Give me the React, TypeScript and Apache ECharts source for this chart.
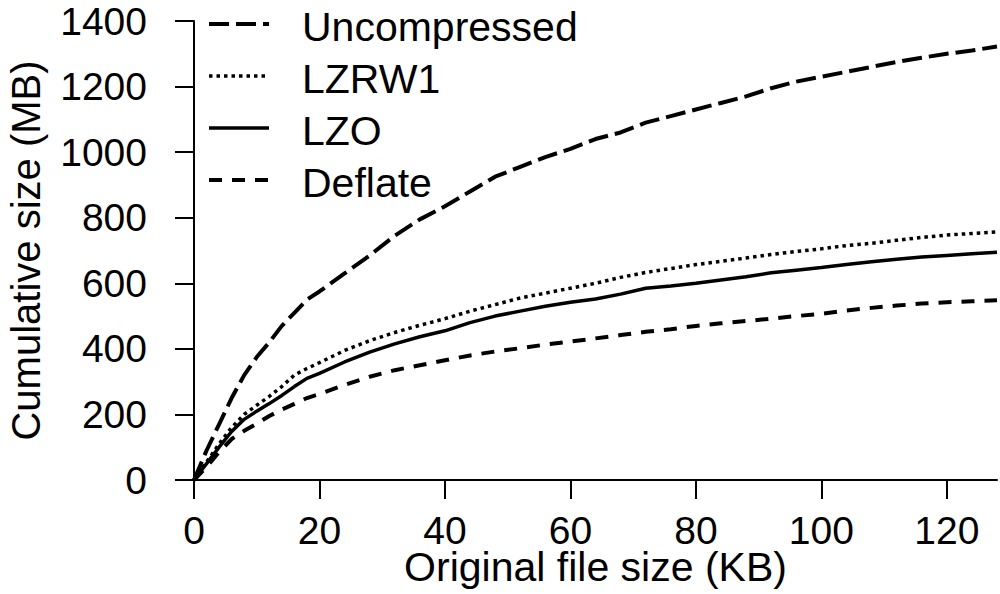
import React, { useEffect, useRef } from "react";
import * as echarts from "echarts";

const xs = [0, 2, 4, 6, 8, 10, 12, 14, 16, 18, 20, 24, 28, 32, 36, 40, 44, 48, 52, 56, 60, 64, 68, 72, 76, 80, 84, 88, 92, 96, 100, 104, 108, 112, 116, 120, 124, 128];

const uncompressed = [0, 90, 170, 250, 320, 375, 420, 470, 510, 550, 575, 630, 685, 745, 795, 835, 880, 925, 955, 985, 1010, 1040, 1060, 1090, 1110, 1130, 1150, 1170, 1195, 1215, 1230, 1245, 1260, 1275, 1288, 1300, 1310, 1322];
const lzrw1 = [0, 55, 110, 160, 200, 228, 255, 285, 320, 340, 358, 395, 425, 450, 472, 492, 515, 535, 555, 570, 585, 600, 618, 633, 645, 657, 667, 677, 688, 697, 705, 715, 722, 731, 740, 747, 752, 757];
const lzo = [0, 50, 100, 148, 185, 210, 233, 258, 285, 310, 325, 360, 390, 415, 437, 455, 480, 500, 515, 530, 542, 552, 567, 585, 592, 600, 610, 620, 632, 640, 648, 657, 666, 673, 680, 685, 690, 695];
const deflate = [0, 40, 85, 125, 150, 172, 195, 215, 232, 250, 262, 290, 315, 335, 350, 365, 380, 392, 402, 413, 422, 432, 442, 452, 460, 470, 478, 485, 492, 500, 507, 517, 525, 532, 538, 542, 545, 548];

const seriesNames = ["Uncompressed", "LZRW1", "LZO", "Deflate"];
const xTickStep = 20;
const yTickStep = 200;

const pair = (vals: number[]) => xs.map((x, i) => [x, vals[i]]);

export default function App() {
  const ref = useRef<HTMLDivElement>(null);
  useEffect(() => {
    if (!ref.current) return;
    const chart = echarts.init(ref.current, null, { renderer: "svg" });
    const font = "'Liberation Sans', Arial, Helvetica, sans-serif";
    const dashes: any[] = [[20, 7], [3.5, 4], "solid", [13, 10]];
    const widths = [4, 3.5, 3.5, 4];
    const axisCommon = {
      axisLine: { show: true, onZero: false, lineStyle: { color: "#000", width: 2 } },
      axisTick: { show: true, inside: false, length: 19, lineStyle: { color: "#000", width: 2 } },
      splitLine: { show: false },
    };
    const lineBase = { type: "line", symbol: "none", showSymbol: false, smooth: false, silent: true };
    const legendGraphics: any[] = [];
    seriesNames.forEach((name, i) => {
      const cy = 24 + i * 52;
      legendGraphics.push({
        type: "line",
        shape: { x1: 209, y1: cy, x2: 269, y2: cy },
        style: { stroke: "#000", lineWidth: widths[i], lineDash: dashes[i] === "solid" ? null : dashes[i] },
        silent: true,
      });
      legendGraphics.push({
        type: "text",
        x: 302,
        y: cy + 3,
        style: { text: name, fontFamily: font, fontSize: 41, fill: "#000", verticalAlign: "middle", align: "left" },
        silent: true,
      });
    });
    chart.setOption({
      animation: false,
      backgroundColor: "#fff",
      grid: { left: 194, right: 3, top: 21, bottom: 114, containLabel: false, outerBoundsMode: "none" },
      legend: { show: false },
      graphic: legendGraphics,
      xAxis: {
        type: "value",
        min: 0,
        max: 128,
        interval: xTickStep,
        name: "Original file size (KB)",
        nameLocation: "middle",
        nameGap: 70,
        nameMoveOverlap: false,
        nameTextStyle: { fontFamily: font, fontSize: 41, color: "#000", lineHeight: 34 },
        axisLabel: { fontFamily: font, fontSize: 39, color: "#000", margin: 35, lineHeight: 30, showMaxLabel: false, formatter: (v: number) => String(v) },
        ...axisCommon,
      },
      yAxis: {
        type: "value",
        min: 0,
        max: 1400,
        interval: yTickStep,
        name: "Cumulative size (MB)",
        nameLocation: "middle",
        nameGap: 148,
        nameMoveOverlap: false,
        nameTextStyle: { fontFamily: font, fontSize: 40, color: "#000" },
        axisLabel: { fontFamily: font, fontSize: 39, color: "#000", margin: 47, formatter: (v: number) => String(v) },
        ...axisCommon,
      },
      series: seriesNames.map((name, i) => ({
        ...lineBase,
        name,
        data: pair([uncompressed, lzrw1, lzo, deflate][i]),
        lineStyle: { color: "#000", width: widths[i], type: dashes[i] },
        itemStyle: { color: "#000" },
      })),
    });
    return () => chart.dispose();
  }, []);
  return <div ref={ref} style={{ position: "fixed", left: 0, top: 0, width: 1000, height: 594 }} />;
}
